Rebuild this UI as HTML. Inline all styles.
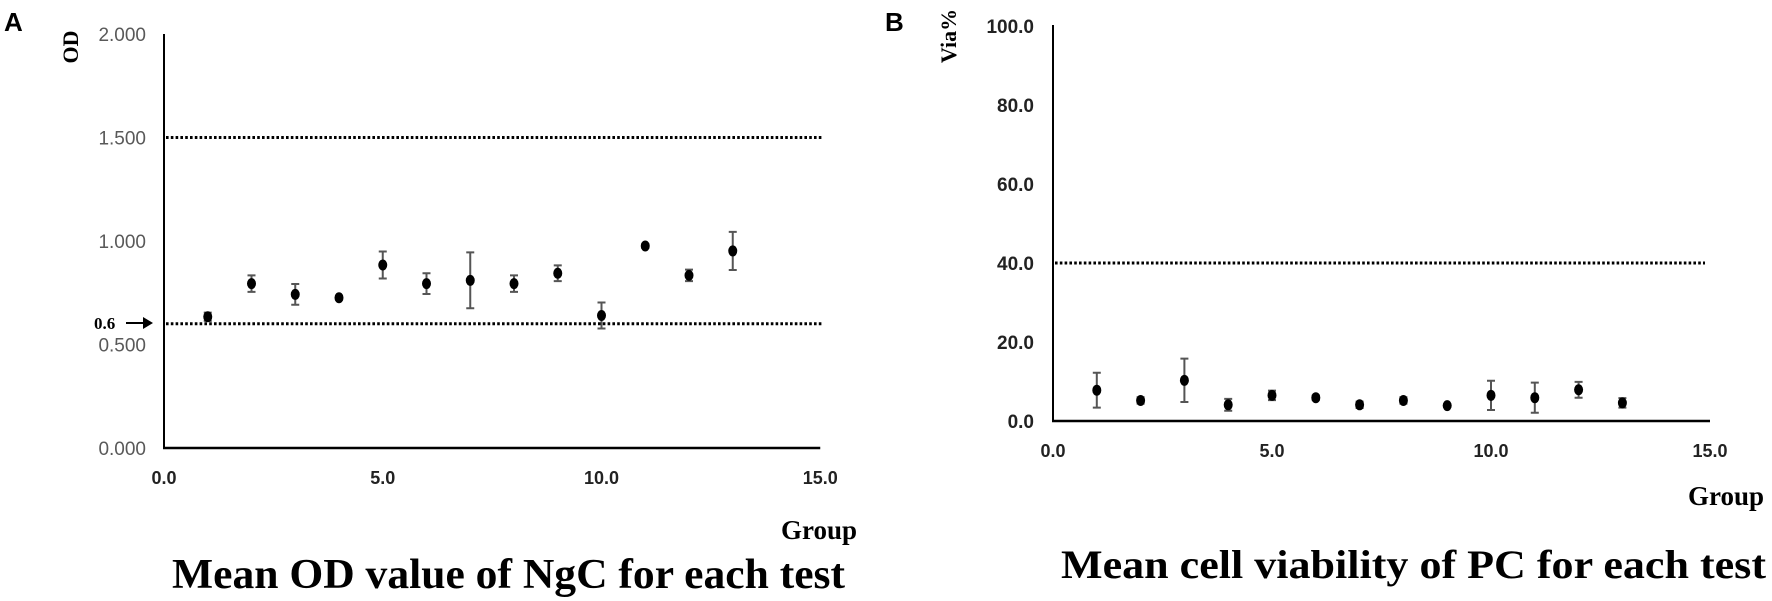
<!DOCTYPE html>
<html><head><meta charset="utf-8"><style>
html,body{margin:0;padding:0;background:#fff;}
svg{display:block;}
</style></head><body>
<svg id="chart" width="1772" height="601" viewBox="0 0 1772 601" xmlns="http://www.w3.org/2000/svg">
<g id="panelA"></g>
<g id="panelB"></g>
</svg>
<script>
// Panel A data
const groupsA = [1,2,3,4,5,6,7,8,9,10,11,12,13];
const meanA = [0.634,0.794,0.742,0.726,0.884,0.794,0.81,0.794,0.844,0.64,0.976,0.834,0.952];
const errA = [0.02,0.04,0.05,0.01,0.065,0.05,0.135,0.04,0.038,0.063,0.01,0.028,0.092];
const yTicksA = [0,0.5,1.0,1.5,2.0];
const yTickLabelsA = ["0.000","0.500","1.000","1.500","2.000"];
const refLinesA = [1.5,0.6];
// Panel B data
const groupsB = [1,2,3,4,5,6,7,8,9,10,11,12,13];
const meanB = [7.8,5.2,10.3,4.1,6.5,5.9,4.1,5.2,3.9,6.5,5.9,7.9,4.6];
const errB = [4.4,0.8,5.5,1.5,1.2,0.6,0.8,0.8,0.3,3.7,3.8,2.0,1.2];
const yTicksB = [0,20,40,60,80,100];
const yTickLabelsB = ["0.0","20.0","40.0","60.0","80.0","100.0"];
const refLinesB = [40];
const xTicks = [0,5,10,15];
const xTickLabels = ["0.0","5.0","10.0","15.0"];

const NS="http://www.w3.org/2000/svg";
function mk(parent,tag,attrs,text){const e=document.createElementNS(NS,tag);for(const k in attrs)e.setAttribute(k,attrs[k]);if(text!==undefined)e.textContent=text;parent.appendChild(e);return e;}

function drawPanel(g,cfg){
  const xS=v=>cfg.x0+v*cfg.xu;
  const yS=v=>cfg.y0-(v-cfg.ymin)*cfg.yu;
  // ref lines
  cfg.refs.forEach(r=>{
    const l=mk(g,'line',{x1:cfg.x0+2,x2:cfg.refEnd,y1:yS(r),y2:yS(r),stroke:'#000','stroke-width':3,'stroke-dasharray':'2.6 2.2'});
    
    
  });
  // axes
  const ya=mk(g,'line',{x1:cfg.x0,x2:cfg.x0,y1:cfg.yTop,y2:cfg.y0+1,stroke:'#000','stroke-width':2});
  
  
  const xa=mk(g,'line',{x1:cfg.x0-1,x2:xS(15),y1:cfg.y0,y2:cfg.y0,stroke:'#000','stroke-width':2.5});
  
  
  // y tick labels
  cfg.yt.forEach((v,i)=>{
    const t=mk(g,'text',{x:cfg.ylabX,y:yS(v)+7,'text-anchor':'end','font-family':'Liberation Sans, sans-serif','font-size':cfg.ylabSize,'font-weight':cfg.ylabWeight,fill:cfg.ylabFill},cfg.ytl[i]);
    
    
  });
  // x tick labels
  xTicks.forEach((v,i)=>{
    const t=mk(g,'text',{x:xS(v),y:cfg.xlabY,'text-anchor':'middle','font-family':'Liberation Sans, sans-serif','font-size':18,'font-weight':'bold',fill:'#222'},xTickLabels[i]);
    
    
  });
  // points
  cfg.gx.forEach((gv,i)=>{
    const cx=xS(gv), cy=yS(cfg.m[i]), top=yS(cfg.m[i]+cfg.e[i]), bot=yS(cfg.m[i]-cfg.e[i]);
    const eb=mk(g,'path',{d:`M${cx},${top}V${bot}M${cx-4},${top}H${cx+4}M${cx-4},${bot}H${cx+4}`,stroke:'#555','stroke-width':2,fill:'none'});
    
    
    const c=mk(g,'ellipse',{cx:cx,cy:cy,rx:4.5,ry:5.5,fill:'#000'});
    
    
  });
}

const gA=document.getElementById('panelA');
drawPanel(gA,{x0:164,xu:43.75,y0:448,ymin:0,yu:207,yTop:34,refEnd:822,refs:refLinesA,yt:yTicksA,ytl:yTickLabelsA,ylabX:146,ylabSize:19,ylabWeight:'normal',ylabFill:'#595959',xlabY:484,gx:groupsA,m:meanA,e:errA});
const gB=document.getElementById('panelB');
drawPanel(gB,{x0:1053,xu:43.8,y0:421,ymin:0,yu:3.95,yTop:25,refEnd:1705,refs:refLinesB,yt:yTicksB,ytl:yTickLabelsB,ylabX:1034,ylabSize:19,ylabWeight:'bold',ylabFill:'#222',xlabY:457,gx:groupsB,m:meanB,e:errB});
</script>
<svg style="position:absolute;left:0;top:0" width="1772" height="601" xmlns="http://www.w3.org/2000/svg">
<text x="4" y="31" font-family="Liberation Sans, sans-serif" font-size="26" font-weight="bold">A</text>
<text transform="translate(78,47) rotate(-90)" text-anchor="middle" font-family="Liberation Serif, serif" font-size="22" font-weight="bold">OD</text>
<text x="94" y="329" font-family="Liberation Serif, serif" font-size="17" font-weight="bold">0.6</text>
<g><line x1="126" y1="323" x2="144" y2="323" stroke="#000" stroke-width="2"/><polygon points="143,317 153,323 143,329" fill="#000"/></g>
<text x="781" y="539" font-family="Liberation Serif, serif" font-size="27" font-weight="bold">Group</text>
<text x="172" y="588" font-family="Liberation Serif, serif" font-size="42" font-weight="bold" textLength="673" lengthAdjust="spacingAndGlyphs">Mean OD value of NgC for each test</text>
<text x="885" y="31" font-family="Liberation Sans, sans-serif" font-size="26" font-weight="bold">B</text>
<text transform="translate(956,36) rotate(-90)" text-anchor="middle" font-family="Liberation Serif, serif" font-size="22" font-weight="bold">Via%</text>
<text x="1688" y="505" font-family="Liberation Serif, serif" font-size="27" font-weight="bold">Group</text>
<text x="1061" y="578" font-family="Liberation Serif, serif" font-size="40" font-weight="bold" textLength="705" lengthAdjust="spacingAndGlyphs">Mean cell viability of PC for each test</text>
</svg>
</body></html>
